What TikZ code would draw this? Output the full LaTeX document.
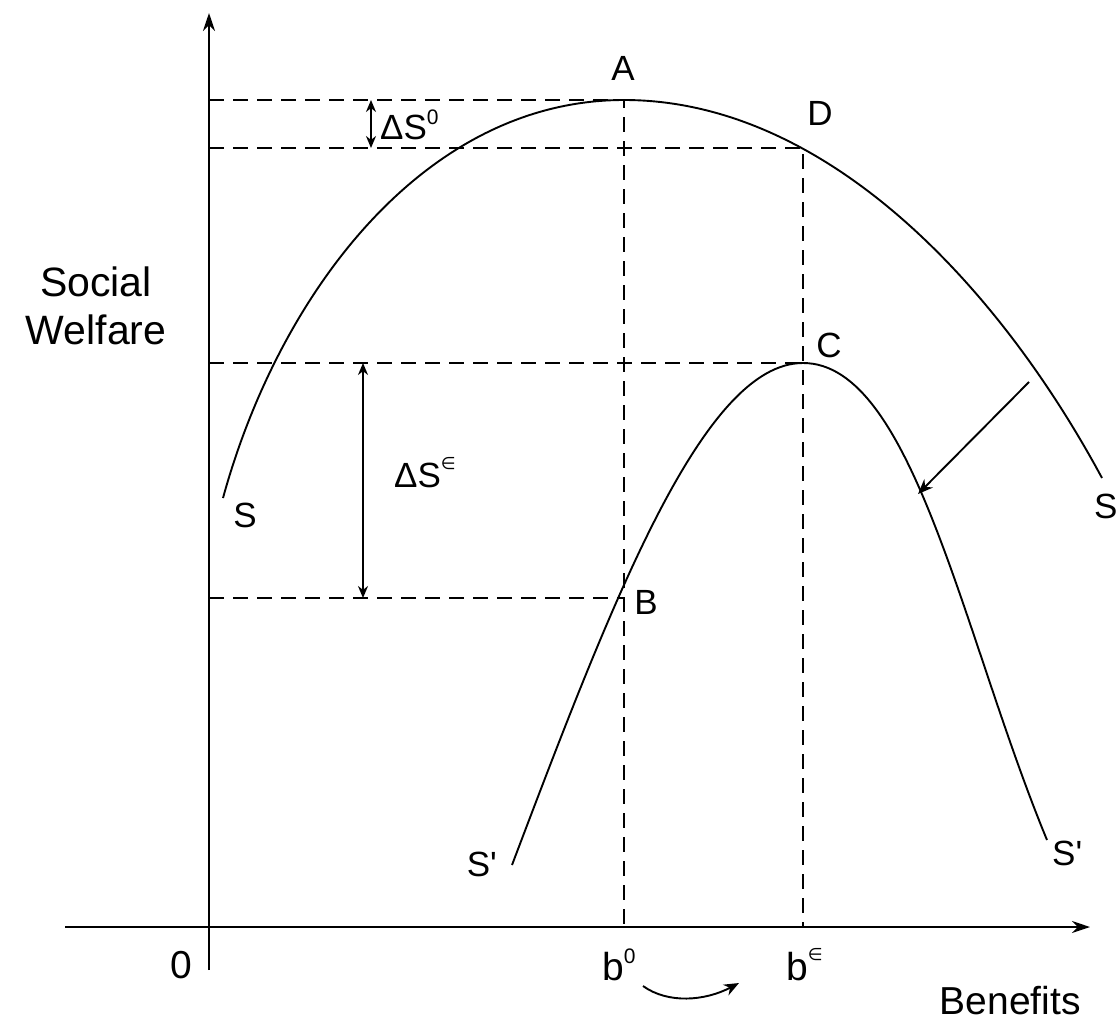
\documentclass[tikz,border=0pt]{standalone}
\usepackage{fontspec}
\setmainfont{Liberation Sans}
\newfontfamily\symfont{DejaVu Sans}
\usetikzlibrary{positioning,arrows.meta,calc}
\tikzset{
  axis/.style={line width=2.4pt, -{Stealth[length=18pt,width=12pt]}},
  guide/.style={line width=1.9pt, dash pattern=on 15pt off 9pt},
  curve/.style={line width=1.9pt},
  span/.style={line width=1.9pt, {Stealth[length=12pt,width=10pt]}-{Stealth[length=12pt,width=10pt]}},
  move/.style={line width=1.9pt, -{Stealth[length=15pt,width=12pt]}},
  lbl/.style={inner sep=0pt, font=\fontsize{35}{35}\selectfont},
  big/.style={inner sep=0pt, font=\fontsize{39}{39}\selectfont}
}
\newcommand\upidx[1]{\raisebox{0.42em}{\fontsize{21}{21}\selectfont #1}}
\newcommand\upin{\raisebox{0.5em}{\fontsize{17}{17}\symfont ∈}}

\begin{document}
\begin{tikzpicture}[x=1pt,y=-1pt]
  \useasboundingbox (0,0) rectangle (1119,1023);
  % axes
  \coordinate (O) at (209,927);
  \coordinate (xbeg) at (65,927);
  \coordinate (xend) at (1090,927);
  \coordinate (ybot) at (209,970);
  \coordinate (ytop) at (209,13);
  \draw[axis] (xbeg) -- (xend);
  \draw[axis] (ybot) -- (ytop);
  % points on the curves
  \coordinate (A) at (624,100);
  \coordinate (D) at (803,148);
  \coordinate (C) at (803,363);
  \coordinate (B) at (624,598);
  \draw[guide] (A -| O) -- (A) -- (A |- O);
  \draw[guide] (D -| O) -- (D) -- (D |- O);
  \draw[guide] (C -| O) -- (C);
  \draw[guide] (B -| O) -- (B);
  % S and S'
  \coordinate (Sl) at (223,498);
  \coordinate (Sr) at (1102,478);
  \coordinate (Pl) at (512,865);
  \coordinate (Pr) at (1047,840);
  \draw[curve] (Sl) .. controls (279,294) and (424,100) .. (A)
    .. controls (824,100) and (997,283) .. (Sr);
  \draw[curve] (Pl) .. controls (612,601) and (703,363) .. (C)
    .. controls (913,363) and (963,637) .. (Pr);
  % shift of the curve
  \coordinate (sfrom) at (1029,382);
  \coordinate (sto) at (918,494);
  \draw[move] (sfrom) -- (sto);
  % differences
  \coordinate (dotop) at (371,100);
  \coordinate (dobot) at (371,148);
  \draw[span] (dotop) -- (dobot);
  \coordinate (detop) at (363,363);
  \coordinate (debot) at (363,598);
  \draw[span] (detop) -- (debot);
  \coordinate (bfrom) at (643,986);
  \coordinate (bto) at (739,983);
  \draw[move] (bfrom) .. controls (668,1004) and (705,1001) .. (bto);
  % labels
  \node[lbl,anchor=base] (lblA) at (623,80) {A};
  \node[lbl,anchor=base] (lblD) at (820,125) {D};
  \node[lbl,anchor=base] (lblC) at (829,357) {C};
  \node[lbl,anchor=base] (lblB) at (646,614) {B};
  \node[lbl,anchor=base west] (lbldo) at (380,139) {ΔS\upidx{0}};
  \node[lbl,anchor=base west] (lblde) at (394,487) {ΔS\upin};
  \node[lbl,anchor=base] (lblSl) at (245,527) {S};
  \node[lbl,anchor=base west] (lblSr) at (1094,518) {S};
  \node[lbl,anchor=base east] (lblPl) at (497,876) {S\textquotesingle};
  \node[lbl,anchor=base west] (lblPr) at (1052,865) {S\textquotesingle};
  \node[big,anchor=base] (zero) at (181,978) {0};
  \node[big,anchor=base west] (lblbo) at (602,980) {b\upidx{0}};
  \node[big,anchor=base west] (lblbe) at (786,980) {b\upin};
  \node[big,anchor=base east] (ben) at (1081,1014) {Benefits};
  \node[inner sep=0pt,align=center,font=\fontsize{41}{48}\selectfont] (sw) at (96,306) {Social\\Welfare};
\end{tikzpicture}
\end{document}
